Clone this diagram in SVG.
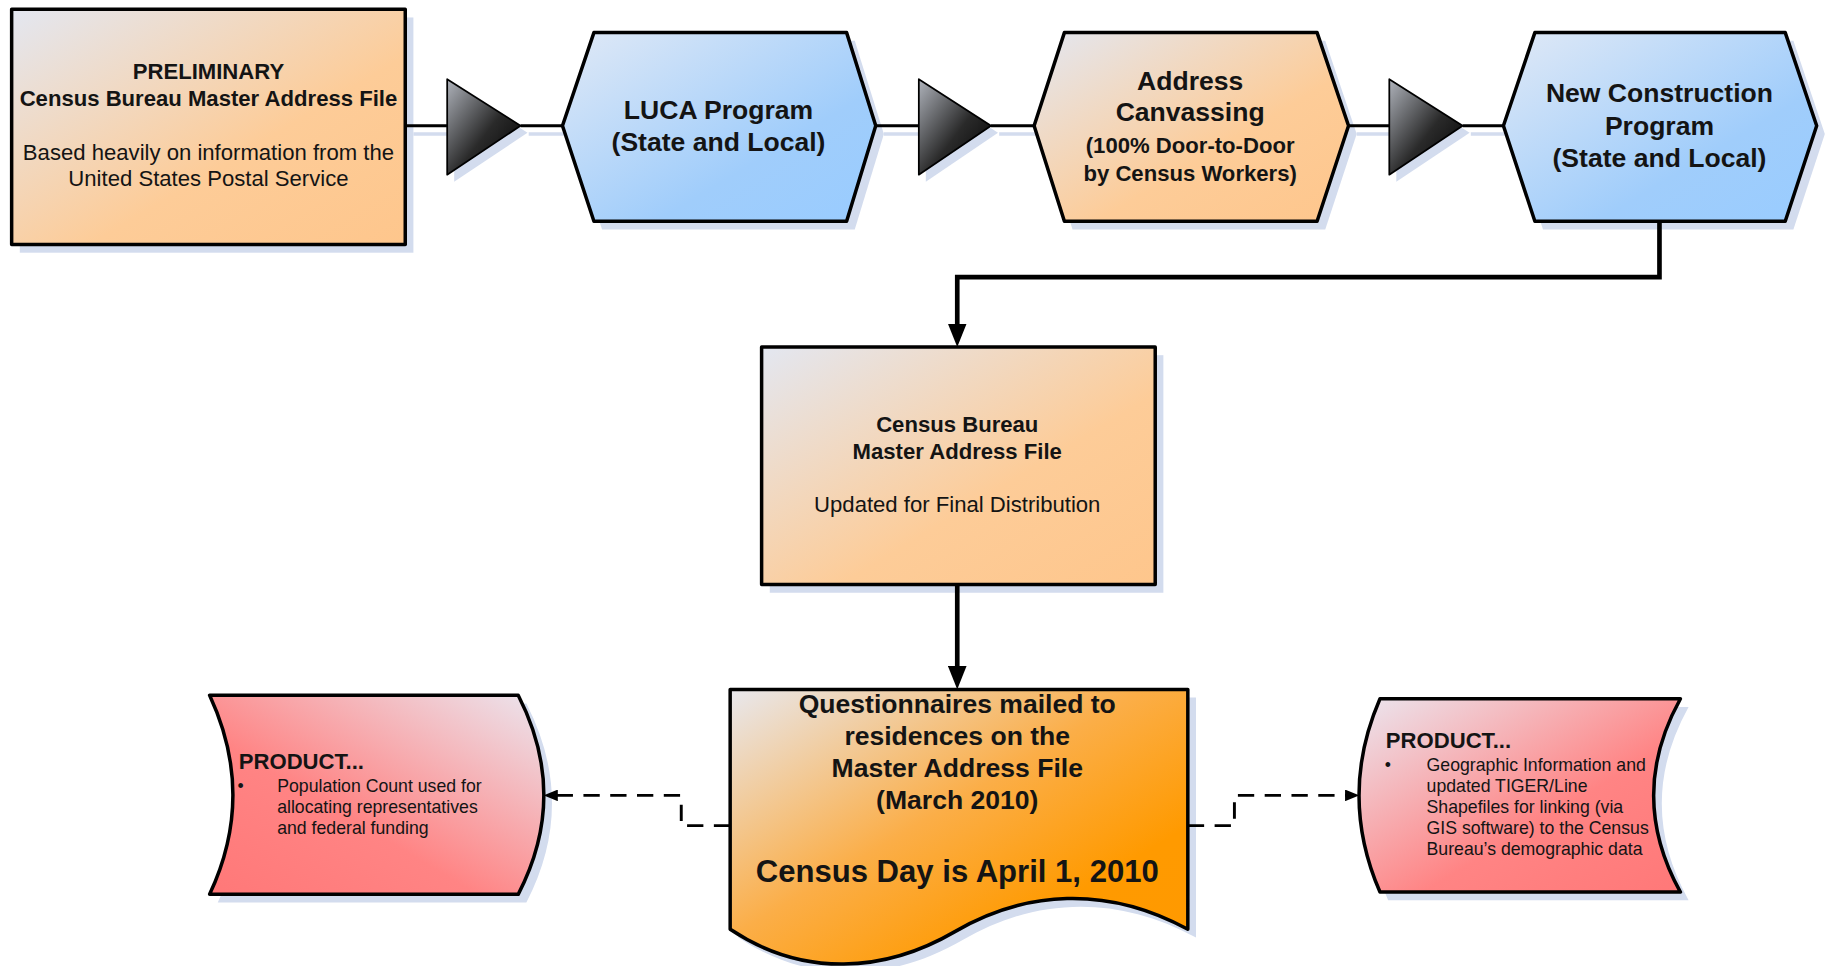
<svg xmlns="http://www.w3.org/2000/svg" width="1826" height="966" viewBox="0 0 1826 966">
<style>
.t{font-family:"Liberation Sans",Arial,sans-serif;fill:#141414;text-anchor:middle}
.l{text-anchor:start}
.b{font-weight:bold}
.n{stroke:#000;stroke-width:3;stroke-linejoin:round}
.sh{fill:#d3dcee;stroke:none}
.c{fill:none;stroke:#000;stroke-width:2.5}
.cs{fill:none;stroke:#d3dcee;stroke-width:3}
.ck{fill:none;stroke:#000;stroke-width:4}
.cd{fill:none;stroke:#000;stroke-width:2.5;stroke-dasharray:14 9}
.tri{fill:url(#gTri);stroke:#000;stroke-width:1.5;stroke-linejoin:round}
</style>
<defs>
<linearGradient id="gOr" x1="0" y1="0" x2="1" y2="1"><stop offset="0" stop-color="#e3e7f1"/><stop offset="0.6" stop-color="#fdcc98"/><stop offset="1" stop-color="#fec68c"/></linearGradient>
<linearGradient id="gBl" x1="0" y1="0" x2="1" y2="1"><stop offset="0" stop-color="#e0e9f6"/><stop offset="0.65" stop-color="#a0cdfb"/><stop offset="1" stop-color="#99ccff"/></linearGradient>
<linearGradient id="gDoc" x1="0" y1="0" x2="1" y2="1"><stop offset="0" stop-color="#e8e8ee"/><stop offset="0.45" stop-color="#fbae48"/><stop offset="0.75" stop-color="#ff9a00"/><stop offset="1" stop-color="#ff9900"/></linearGradient>
<linearGradient id="gRedL" x1="1" y1="0" x2="0" y2="1"><stop offset="0" stop-color="#ebe6ef"/><stop offset="0.6" stop-color="#ff8484"/><stop offset="1" stop-color="#ff7878"/></linearGradient>
<linearGradient id="gRedR" x1="0" y1="0" x2="1" y2="1"><stop offset="0" stop-color="#ebe6ef"/><stop offset="0.6" stop-color="#ff8484"/><stop offset="1" stop-color="#ff7878"/></linearGradient>
<linearGradient id="gTri" x1="0" y1="0" x2="1" y2="1"><stop offset="0" stop-color="#b0b4bc"/><stop offset="0.55" stop-color="#2a2a2a"/><stop offset="1" stop-color="#000"/></linearGradient>
<marker id="aS" viewBox="0 0 20 16" refX="8" refY="8" markerWidth="20" markerHeight="16" markerUnits="userSpaceOnUse" orient="auto"><path d="M0,0 L20,8 L0,16 Z" fill="#000"/></marker>
<marker id="aD" viewBox="0 0 12 10" refX="4" refY="5" markerWidth="12" markerHeight="10" markerUnits="userSpaceOnUse" orient="auto"><path d="M0,0 L12,5 L0,10 Z" fill="#000"/></marker>
</defs>
<rect width="1826" height="966" fill="#fff"/>
<g transform="scale(1.16454)">
<g id="shadows">
<rect class="sh" x="17" y="15" width="338" height="202"/>
<polygon class="sh" points="490,115 517,35 734,35 759,115 734,197 517,197"/>
<polygon class="sh" points="895,115 921,35 1138,35 1165,115 1138,197 921,197"/>
<polygon class="sh" points="1298,115 1325,35 1540,35 1567,115 1540,197 1325,197"/>
<rect class="sh" x="661" y="305" width="338" height="204"/>
<path class="sh" d="M634,599 H1027 V805 C957,767 887,772 827,807 C767,842 697,847 634,805 Z"/>
<path class="sh" d="M187,604 H452 Q496,690 452,775 H187 Q227,690 187,604 Z"/>
<path class="sh" d="M1192,607 H1450 Q1404,690 1450,773 H1192 Q1156,690 1192,607 Z"/>
<polygon class="sh" points="390,74 453,114 390,156"/>
<polygon class="sh" points="795,74 857,114 795,156"/>
<polygon class="sh" points="1199,74 1262,114 1199,156"/>
<path class="cs" d="M355,115 H391 M454,115 H490 M759,115 H796 M858,115 H895 M1165,115 H1200 M1263,115 H1298"/>
</g>
<g id="connectors">
<path class="c" d="M348,108 H384 M447,108 H483 M752,108 H789 M851,108 H888 M1158,108 H1193 M1256,108 H1291"/>
<polygon class="tri" points="384,68 447,108 384,150"/>
<polygon class="tri" points="789,68 851,108 789,150"/>
<polygon class="tri" points="1193,68 1256,108 1193,150"/>
<path class="ck" d="M1425,190 V238 H822 V286" marker-end="url(#aS)"/>
<path class="ck" d="M822,502 V580" marker-end="url(#aS)"/>
<path class="cd" d="M627,709 H585 V683 H475" marker-end="url(#aD)"/>
<path class="cd" d="M1020,709 H1060 V683 H1159" marker-end="url(#aD)"/>
</g>
<g id="prelim">
<rect class="n" x="10" y="8" width="338" height="202" fill="url(#gOr)"/>
<text class="t b" x="179" y="68" font-size="19">PRELIMINARY</text>
<text class="t b" x="179" y="91" font-size="19">Census Bureau Master Address File</text>
<text class="t" x="179" y="137" font-size="19">Based heavily on information from the</text>
<text class="t" x="179" y="160" font-size="19">United States Postal Service</text>
</g>
<g id="luca">
<polygon class="n" points="483,108 510,28 727,28 752,108 727,190 510,190" fill="url(#gBl)"/>
<text class="t b" x="617" y="102" font-size="22.8">LUCA Program</text>
<text class="t b" x="617" y="130" font-size="22.8">(State and Local)</text>
</g>
<g id="canvass">
<polygon class="n" points="888,108 914,28 1131,28 1158,108 1131,190 914,190" fill="url(#gOr)"/>
<text class="t b" x="1022" y="77" font-size="22.8">Address</text>
<text class="t b" x="1022" y="104" font-size="22.8">Canvassing</text>
<text class="t b" x="1022" y="131.5" font-size="19">(100% Door-to-Door</text>
<text class="t b" x="1022" y="155.5" font-size="19">by Census Workers)</text>
</g>
<g id="newcon">
<polygon class="n" points="1291,108 1318,28 1533,28 1560,108 1533,190 1318,190" fill="url(#gBl)"/>
<text class="t b" x="1425" y="88" font-size="22.8">New Construction</text>
<text class="t b" x="1425" y="116" font-size="22.8">Program</text>
<text class="t b" x="1425" y="143" font-size="22.8">(State and Local)</text>
</g>
<g id="maf">
<rect class="n" x="654" y="298" width="338" height="204" fill="url(#gOr)"/>
<text class="t b" x="822" y="371" font-size="19">Census Bureau</text>
<text class="t b" x="822" y="394" font-size="19">Master Address File</text>
<text class="t" x="822" y="440" font-size="19">Updated for Final Distribution</text>
</g>
<g id="questionnaires">
<path class="n" d="M627,592 H1020 V798 C950,760 880,765 820,800 C760,835 690,840 627,798 Z" fill="url(#gDoc)"/>
<text class="t b" x="822" y="612" font-size="22.8">Questionnaires mailed to</text>
<text class="t b" x="822" y="640" font-size="22.8">residences on the</text>
<text class="t b" x="822" y="667.5" font-size="22.8">Master Address File</text>
<text class="t b" x="822" y="695" font-size="22.8">(March 2010)</text>
<text class="t b" x="822" y="757" font-size="26.7">Census Day is April 1, 2010</text>
</g>
<g id="product-left">
<path class="n" d="M180,597 H445 Q489,683 445,768 H180 Q220,683 180,597 Z" fill="url(#gRedL)"/>
<text class="t l b" x="205" y="660" font-size="19">PRODUCT...</text>
<text class="t l" x="204" y="680" font-size="15.2">•</text>
<text class="t l" x="238" y="680" font-size="15.2">Population Count used for</text>
<text class="t l" x="238" y="698" font-size="15.2">allocating representatives</text>
<text class="t l" x="238" y="716" font-size="15.2">and federal funding</text>
</g>
<g id="product-right">
<path class="n" d="M1185,600 H1443 Q1397,683 1443,766 H1185 Q1149,683 1185,600 Z" fill="url(#gRedR)"/>
<text class="t l b" x="1190" y="642" font-size="19">PRODUCT...</text>
<text class="t l" x="1189" y="662" font-size="15.2">•</text>
<text class="t l" x="1225" y="662" font-size="15.2">Geographic Information and</text>
<text class="t l" x="1225" y="680" font-size="15.2">updated TIGER/Line</text>
<text class="t l" x="1225" y="698" font-size="15.2">Shapefiles for linking (via</text>
<text class="t l" x="1225" y="716" font-size="15.2">GIS software) to the Census</text>
<text class="t l" x="1225" y="734" font-size="15.2">Bureau’s demographic data</text>
</g>
</g>
</svg>
